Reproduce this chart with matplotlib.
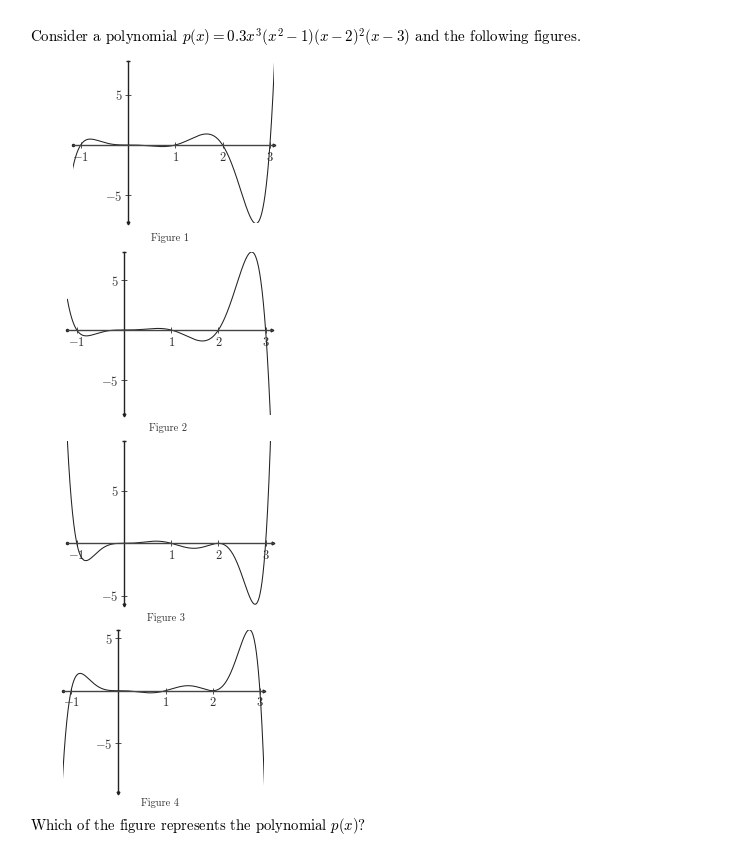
import numpy as np
import matplotlib
matplotlib.use("Agg")
import matplotlib.pyplot as plt

plt.rcParams['font.family'] = 'serif'
plt.rcParams['font.serif'] = ['cmr10']
plt.rcParams['mathtext.fontset'] = 'cm'
plt.rcParams['axes.formatter.use_mathtext'] = True

# roots of the polynomial and their multiplicity in each figure
roots = [-1, 0, 1, 2, 3]
mult = [
    [1, 3, 1, 1, 1],   # Figure 1
    [1, 3, 1, 1, 1],   # Figure 2
    [1, 3, 1, 2, 1],   # Figure 3
    [1, 3, 1, 2, 1],   # Figure 4
]
lead = [0.3, -0.3, 0.3, -0.3]
x_ticks = [-1, 1, 2, 3]
y_ticks = [-5, 5]
captions = ["Figure 1", "Figure 2", "Figure 3", "Figure 4"]

# axis extents (data units) and pixel origin of each small plot
x_lims = [(-1.17, 3.09), (-1.2, 3.13), (-1.2, 3.16), (-1.18, 3.09)]
y_lims = [(-7.75, 8.34), (-8.5, 7.85), (-5.9, 9.74), (-9.7, 5.76)]
origins = [(128, 145), (124, 330), (124, 543.3), (118.3, 690.7)]
units = [(47.3, 10.07), (47.2, 10.0), (47.2, 10.5), (47.2, 10.5)]
cap_pos = [(170, 238), (168, 428), (166, 618), (160, 803)]

W, H = 742, 843
fig = plt.figure(figsize=(W / 100, H / 100), dpi=100)

for i in range(4):
    (x0, x1), (y0, y1) = x_lims[i], y_lims[i]
    ox, oy = origins[i]
    ux, uy = units[i]
    left = ox + x0 * ux
    right = ox + x1 * ux
    top = oy - y1 * uy
    bottom = oy - y0 * uy
    ax = fig.add_axes([left / W, 1 - bottom / H, (right - left) / W, (bottom - top) / H])
    ax.set_xlim(x0, x1)
    ax.set_ylim(y0, y1)
    ax.patch.set_alpha(0)

    coeffs = np.poly(np.repeat(roots, mult[i])) * lead[i]
    xs = np.linspace(-1.2, 3.13, 800)
    ax.plot(xs, np.polyval(coeffs, xs), color='#222222', lw=0.75)

    for s in ['top', 'right']:
        ax.spines[s].set_visible(False)
    ax.spines['left'].set_position(('data', 0))
    ax.spines['bottom'].set_position(('data', 0))
    ax.spines['left'].set_linewidth(1.0)
    ax.spines['bottom'].set_linewidth(1.0)
    ax.spines['left'].set_color('#222222')
    ax.spines['bottom'].set_color('#444444')

    # little arrow tips at the axis ends
    ax.plot([x1], [0], marker='>', ms=2, color='#222222', clip_on=False)
    ax.plot([x0], [0], marker='o', ms=1.5, color='#222222', clip_on=False)
    ax.plot([0], [y1], marker='_', ms=3, mew=1, color='#222222', clip_on=False)
    ax.plot([0], [y0], marker='v', ms=2, color='#222222', clip_on=False)

    ax.set_xticks(x_ticks)
    ax.set_xticklabels([f"${v}$" for v in x_ticks])
    ax.set_yticks(y_ticks)
    ax.set_yticklabels([f"${v}$" for v in y_ticks])
    ax.tick_params(direction='inout', length=5, width=0.6, labelsize=9, pad=1.5,
                   colors='#333333')

    cx, cy = cap_pos[i]
    fig.text(cx / W, 1 - cy / H, captions[i], fontsize=7.5, ha='center', va='center',
             color='#333333')

fig.text(30 / W, 1 - 38 / H,
         "Consider a polynomial $p(x) = 0.3x^3(x^2-1)(x-2)^2(x-3)$ and the following figures.",
         fontsize=10.8, ha='left', va='center')
fig.text(30 / W, 1 - 826 / H,
         "Which of the figure represents the polynomial $p(x)$?",
         fontsize=10.6, ha='left', va='center')

fig.savefig("out.png", dpi=100, facecolor='white')
